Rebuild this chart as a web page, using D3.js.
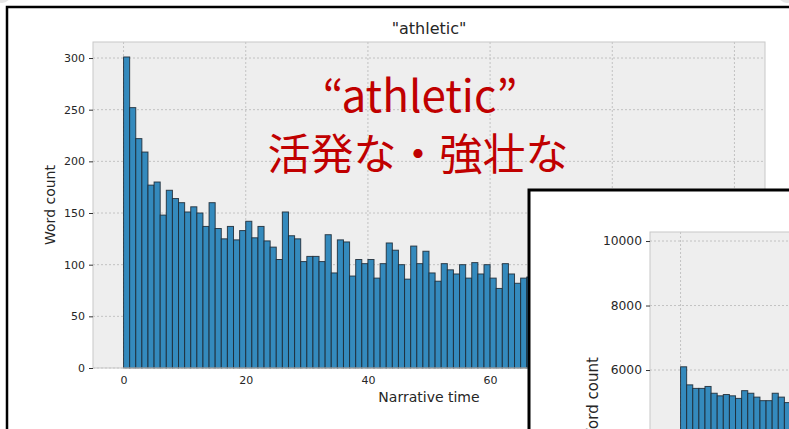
<!DOCTYPE html>
<html>
<head>
<meta charset="utf-8">
<script src="https://cdn.jsdelivr.net/npm/d3@7"></script>
<style>
  body { margin: 0; background: #fff; }
  svg { display: block; }
  text { font-family: "DejaVu Sans", sans-serif; fill: #262626; }
</style>
</head>
<body>
<svg id="vis" width="789" height="429"></svg>
<script>
// main histogram, one bin per unit of narrative time (0..99)
var mainCounts = [
  301, 252, 222, 209, 177, 180, 148, 172, 164, 160,
  151, 156, 150, 137, 160, 135, 125, 137, 124, 133,
  142, 126, 137, 123, 117, 105, 151, 128, 125, 103,
  108, 108, 103, 129, 92, 124, 122, 89, 105, 101,
  105, 87, 101, 121, 114, 100, 86, 118, 101, 113,
  92, 84, 101, 95, 91, 100, 87, 102, 91, 100,
  87, 77, 101, 91, 82, 87, 88, 84, 90, 86,
  82, 88, 79, 85, 83, 80, 86, 78, 82, 84,
  79, 76, 83, 80, 77, 81, 75, 78, 80, 74,
  77, 79, 73, 76, 78, 72, 75, 74, 77, 71
];
// inset chart (all words), only the first bins are on screen
var insetCounts = [
  6100, 5540, 5430, 5430, 5490, 5280, 5200, 5240, 5200, 5120,
  5360, 5280, 5160, 5050, 5050, 5280, 5160, 4990
];
var xTicks = [0, 20, 40, 60, 80, 100];
var yTicks = [0, 50, 100, 150, 200, 250, 300];
var insetYTicks = [6000, 8000, 10000];

var svg = d3.select("#vis");

// slide decoration
svg.append("circle").attr("cx", 2).attr("cy", -6).attr("r", 9).attr("fill", "#e6e6e6");
svg.append("circle").attr("cx", 787).attr("cy", -6).attr("r", 9).attr("fill", "#e6e6e6");

// outer frame of the screenshot
svg.append("rect")
    .attr("x", 7).attr("y", 7).attr("width", 800).attr("height", 440)
    .attr("fill", "#fff").attr("stroke", "#000").attr("stroke-width", 2.5);

function drawHist(g, counts, x, y, xt, yt, opt) {
  var x0 = x.range()[0], x1 = x.range()[1],
      yb = y.range()[0], ytop = y.range()[1];

  g.append("rect")
      .attr("x", x0).attr("y", ytop)
      .attr("width", x1 - x0).attr("height", yb - ytop)
      .attr("fill", "#eeeeee");

  g.selectAll(".gx").data(xt).enter().append("line")
      .attr("x1", d => x(d)).attr("x2", d => x(d))
      .attr("y1", ytop).attr("y2", yb)
      .attr("stroke", "#b8b8b8").attr("stroke-width", 0.8)
      .attr("stroke-dasharray", "2,2");
  g.selectAll(".gy").data(yt).enter().append("line")
      .attr("x1", x0).attr("x2", x1)
      .attr("y1", d => y(d)).attr("y2", d => y(d))
      .attr("stroke", "#b8b8b8").attr("stroke-width", 0.8)
      .attr("stroke-dasharray", "2,2");

  g.selectAll(".bar").data(counts).enter().append("rect")
      .attr("x", (d, i) => x(i))
      .attr("y", d => y(d))
      .attr("width", (d, i) => x(i + 1) - x(i))
      .attr("height", d => yb - y(d))
      .attr("fill", "#348ABD")
      .attr("stroke", "#1c2833")
      .attr("stroke-opacity", 0.85)
      .attr("stroke-width", 1);

  g.append("rect")
      .attr("x", x0).attr("y", ytop)
      .attr("width", x1 - x0).attr("height", yb - ytop)
      .attr("fill", "none").attr("stroke", "#c8c8c8").attr("stroke-width", 1);

  var ya = g.append("g")
      .attr("transform", "translate(" + x0 + ",0)")
      .call(d3.axisLeft(y).tickValues(yt).tickFormat(d3.format("d"))
        .tickSize(4).tickPadding(4).tickSizeOuter(0));
  ya.select(".domain").remove();
  ya.selectAll("text").style("font-size", opt.tickSize + "px").attr("fill", "#262626");
  ya.selectAll("line").attr("stroke", "#333");

  if (opt.showX) {
    var xa = g.append("g")
        .attr("transform", "translate(0," + yb + ")")
        .call(d3.axisBottom(x).tickValues(xt).tickFormat(d3.format("d"))
          .tickSize(0).tickPadding(8).tickSizeOuter(0));
    xa.select(".domain").remove();
    xa.selectAll("text").style("font-size", opt.tickSize + "px").attr("fill", "#262626");
  }
}

// main chart
var x = d3.scaleLinear().domain([-5, 105]).range([93, 765]);
var y = d3.scaleLinear().domain([0, 315.5]).range([368, 42]);
var g1 = svg.append("g");
drawHist(g1, mainCounts, x, y, xTicks, yTicks, {tickSize: 11, showX: true});

g1.append("text")
    .attr("x", 429).attr("y", 34)
    .attr("text-anchor", "middle")
    .style("font-size", "16px")
    .text("\"athletic\"");
g1.append("text")
    .attr("x", 429).attr("y", 402)
    .attr("text-anchor", "middle")
    .style("font-size", "14px")
    .text("Narrative time");
g1.append("text")
    .attr("transform", "translate(55,205) rotate(-90)")
    .attr("text-anchor", "middle")
    .style("font-size", "14px")
    .text("Word count");

// red annotation
var note = svg.append("g").attr("fill", "#c00000");
note.append("text")
    .attr("x", 420).attr("y", 112)
    .attr("text-anchor", "middle")
    .style("font-family", "'Noto Sans CJK JP', sans-serif")
    .style("font-size", "44px").style("fill", "#c00000")
    .text("“athletic”");
note.append("text")
    .attr("x", 418).attr("y", 170)
    .attr("text-anchor", "middle")
    .style("font-family", "'Noto Sans CJK JP', sans-serif")
    .style("font-size", "43px").style("fill", "#c00000")
    .text("活発な・強壮な");

// inset screenshot of the overall distribution
svg.append("rect")
    .attr("x", 529).attr("y", 190).attr("width", 300).attr("height", 300)
    .attr("fill", "#fff").attr("stroke", "#000").attr("stroke-width", 3);

var x2 = d3.scaleLinear().domain([-5, 105]).range([650, 1322]);
var y2 = d3.scaleLinear().domain([0, 10280]).range([563.5, 232]);
var g2 = svg.append("g");
drawHist(g2, insetCounts, x2, y2, xTicks, insetYTicks, {tickSize: 12.3, showX: false});

g2.append("text")
    .attr("transform", "translate(598,400) rotate(-90)")
    .attr("text-anchor", "middle")
    .style("font-size", "15px")
    .text("Word count");
</script>
</body>
</html>
